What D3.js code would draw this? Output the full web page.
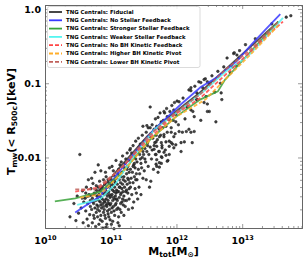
<!DOCTYPE html>
<html>
<head>
<meta charset="utf-8">
<script src="https://cdn.jsdelivr.net/npm/d3@7"></script>
<style>
  body { margin: 0; background: #fff; }
  text { font-family: "DejaVu Sans", sans-serif; font-weight: bold; }
</style>
</head>
<body>
<div id="container"></div>
<script>
// scatter of TNG centrals, [log10 Mtot, log10 Tmw]
const centrals = [
  [10.38,-2.80],[10.44,-2.62],[10.47,-2.85],[10.49,-2.52],
  [10.51,-2.75],[10.53,-1.96],[10.55,-2.68],[10.57,-2.45],[10.58,-2.88],[10.59,-2.60],
  [10.61,-2.55],[10.62,-2.72],[10.63,-2.40],[10.64,-2.83],[10.65,-2.62],[10.66,-2.30],[10.67,-2.50],[10.68,-2.77],[10.69,-2.58],[10.66,-2.92],[10.62,-2.48],[10.69,-2.66],
  [10.70,-2.42],[10.71,-2.70],[10.72,-2.55],[10.72,-2.88],[10.73,-2.35],[10.74,-2.62],[10.74,-2.78],[10.75,-2.48],[10.76,-2.20],[10.76,-2.68],[10.77,-2.58],[10.77,-2.93],[10.78,-2.44],[10.78,-2.74],[10.79,-2.52],[10.79,-2.64],[10.71,-2.28],[10.75,-2.82],[10.73,-2.60],[10.78,-2.38],
  [10.80,-2.56],[10.80,-2.80],[10.81,-2.40],[10.81,-2.66],[10.82,-2.50],[10.82,-2.90],[10.83,-2.32],[10.83,-2.72],[10.84,-2.60],[10.84,-2.45],[10.85,-2.78],[10.85,-2.18],[10.86,-2.54],[10.86,-2.68],[10.87,-2.40],[10.87,-2.86],[10.88,-2.62],[10.88,-2.48],[10.89,-2.74],[10.89,-2.30],[10.80,-2.70],[10.82,-2.58],[10.84,-2.84],[10.86,-2.42],[10.88,-2.95],[10.83,-2.52],[10.85,-2.64],[10.87,-2.56],[10.89,-2.66],[10.81,-2.10],
  [10.90,-2.50],[10.90,-2.70],[10.91,-2.36],[10.91,-2.60],[10.92,-2.82],[10.92,-2.44],[10.93,-2.56],[10.93,-2.26],[10.94,-2.66],[10.94,-2.90],[10.95,-2.40],[10.95,-2.52],[10.96,-2.76],[10.96,-2.30],[10.97,-2.62],[10.97,-2.46],[10.98,-2.70],[10.98,-2.14],[10.99,-2.54],[10.99,-2.84],[10.90,-2.58],[10.91,-2.78],[10.92,-2.20],[10.93,-2.64],[10.94,-2.48],[10.95,-2.72],[10.96,-2.58],[10.97,-2.34],[10.98,-2.50],[10.99,-2.38],[10.91,-2.48],[10.93,-2.94],[10.95,-2.62],[10.97,-2.80],[10.99,-2.64],
  [11.00,-2.42],[11.00,-2.62],[11.01,-2.30],[11.01,-2.74],[11.02,-2.50],[11.02,-2.12],[11.03,-2.58],[11.03,-2.86],[11.04,-2.38],[11.04,-2.66],[11.05,-2.46],[11.05,-2.24],[11.06,-2.56],[11.06,-2.78],[11.07,-2.34],[11.07,-2.52],[11.08,-2.62],[11.08,-2.04],[11.09,-2.44],[11.09,-2.70],[11.00,-2.52],[11.01,-2.90],[11.02,-2.36],[11.03,-2.44],[11.04,-2.54],[11.05,-2.72],[11.06,-2.40],[11.07,-2.64],[11.08,-2.28],[11.09,-2.56],[11.02,-2.68],[11.04,-2.18],[11.06,-2.32],[11.08,-2.48],[11.05,-2.96],
  [11.10,-2.36],[11.10,-2.58],[11.11,-2.22],[11.11,-2.68],[11.12,-2.46],[11.12,-2.80],[11.13,-2.30],[11.13,-2.54],[11.14,-2.40],[11.14,-2.10],[11.15,-2.62],[11.15,-2.34],[11.16,-2.48],[11.16,-2.74],[11.17,-2.20],[11.17,-2.42],[11.18,-2.56],[11.18,-1.98],[11.19,-2.30],[11.19,-2.64],[11.10,-2.46],[11.11,-2.88],[11.12,-2.16],[11.13,-2.40],[11.14,-2.70],[11.15,-2.50],[11.16,-2.26],[11.17,-2.60],[11.18,-2.36],[11.19,-2.46],[11.13,-2.92],[11.16,-2.06],
  [11.20,-2.26],[11.20,-2.52],[11.21,-2.14],[11.21,-2.40],[11.22,-2.66],[11.22,-2.32],[11.23,-2.02],[11.23,-2.46],[11.24,-2.22],[11.24,-2.58],[11.25,-2.36],[11.25,-1.94],[11.26,-2.48],[11.26,-2.12],[11.27,-2.30],[11.27,-2.70],[11.28,-2.20],[11.28,-2.42],[11.29,-1.90],[11.29,-2.34],[11.20,-2.78],[11.22,-2.08],[11.24,-2.44],[11.26,-2.28],[11.28,-2.56],[11.21,-2.58],[11.25,-2.16],[11.27,-2.04],
  [11.30,-2.16],[11.30,-2.40],[11.31,-2.04],[11.31,-2.28],[11.32,-2.50],[11.32,-1.94],[11.33,-2.20],[11.34,-2.34],[11.34,-1.84],[11.35,-2.10],[11.35,-2.60],[11.36,-2.26],[11.36,-1.98],[11.37,-2.14],[11.37,-2.42],[11.38,-2.02],[11.38,-1.78],[11.39,-2.22],[11.39,-2.48],[11.30,-1.88],[11.33,-2.68],[11.36,-2.08],[11.38,-2.30],[11.34,-2.12],
  [11.40,-2.06],[11.40,-2.30],[11.41,-1.90],[11.42,-2.16],[11.42,-1.74],[11.43,-2.40],[11.44,-1.96],[11.44,-2.22],[11.45,-1.82],[11.46,-2.08],[11.46,-2.50],[11.47,-1.88],[11.47,-2.14],[11.48,-1.70],[11.48,-2.00],[11.49,-2.28],[11.49,-1.92],[11.41,-2.56],[11.45,-2.02],[11.43,-1.86],
  [11.50,-1.96],[11.51,-1.78],[11.51,-2.18],[11.52,-1.88],[11.53,-2.06],[11.54,-1.66],[11.54,-2.30],[11.55,-1.92],[11.56,-1.80],[11.57,-2.12],[11.57,-1.60],[11.58,-1.96],[11.59,-1.72],[11.59,-2.40],[11.52,-2.02],[11.56,-1.84],
  [11.60,-1.86],[11.61,-1.68],[11.62,-2.02],[11.63,-1.56],[11.63,-1.90],[11.64,-1.74],[11.65,-2.16],[11.66,-1.62],[11.67,-1.80],[11.68,-1.48],[11.68,-1.96],[11.69,-1.70],[11.61,-2.32],[11.66,-1.84],
  [11.70,-1.58],[11.71,-1.76],[11.72,-1.46],[11.73,-1.92],[11.74,-1.62],[11.75,-1.40],[11.76,-1.70],[11.77,-2.08],[11.77,-1.52],[11.78,-1.84],[11.79,-1.60],[11.72,-2.20],
  [11.80,-1.50],[11.81,-1.72],[11.82,-1.40],[11.83,-1.90],[11.84,-1.58],[11.85,-1.34],[11.86,-1.66],[11.87,-2.04],[11.88,-1.46],[11.89,-1.78],
  [11.90,-1.38],[11.92,-1.60],[11.93,-1.30],[11.94,-1.82],[11.95,-1.50],[11.97,-1.26],[11.98,-1.68],[11.99,-1.42],
  [12.01,-1.24],[12.03,-1.56],[12.05,-1.36],[12.07,-1.80],[12.10,-1.20],[12.13,-1.48],[12.16,-1.30],[12.19,-1.62],
  [12.22,-1.10],[12.25,-1.38],[12.28,-1.04],[12.31,-1.22],[12.34,-0.98],[12.37,-1.50],[12.40,-1.06],[12.44,-0.94],[12.47,-1.28],[12.50,-1.00],[12.54,-0.90],[12.58,-1.12],
  [12.63,-0.84],[12.67,-1.00],[12.72,-0.78],[12.77,-0.66],[12.82,-0.86],[12.87,-0.60],[12.91,-0.76],[12.96,-0.56],
  [13.05,-0.48],[13.20,-0.40],[13.45,-0.20],[13.67,-0.11],[13.74,-0.09],
  [12.42,-0.95],[12.47,-0.98],[12.37,-0.99],[12.88,-0.59],[12.92,-0.62],[12.95,-0.66],[12.85,-0.78],[12.68,-1.13],[12.69,-1.22],[12.50,-1.38],
  [12.19,-1.09],[12.22,-1.06],[12.04,-1.25],[12.31,-1.13],[12.31,-1.22],[12.45,-1.18],[12.16,-1.32],[11.96,-1.36],[11.81,-1.38],[11.86,-1.45],
  [12.22,-1.36],[12.42,-1.26],[12.27,-1.45],[11.99,-1.52],[11.89,-1.49],[11.77,-1.53],[11.70,-1.60],[12.60,-1.52],[12.47,-1.38],
  [11.74,-1.72],[11.81,-1.69],[11.92,-1.66],[11.96,-1.72],[12.04,-1.65],[12.09,-1.66],[12.15,-1.65],[12.22,-1.66],[12.27,-1.65],
  [11.69,-1.79],[11.77,-1.80],[11.84,-1.79],[11.92,-1.80],[11.99,-1.83],[12.12,-1.79],[12.24,-1.80],[11.70,-1.85],[11.78,-1.87],[11.89,-1.85],[11.96,-1.87],
  [11.74,-1.92],[11.81,-1.93],[12.07,-1.92],[11.69,-1.96],[11.77,-1.99],[11.84,-1.97],[11.89,-1.96],[11.70,-2.03],[11.78,-2.00],[11.86,-2.05],
  [11.69,-2.09],[11.74,-2.07],[11.70,-2.12],[11.74,-2.13],[11.66,-1.89],[11.60,-1.32],[11.49,-1.58],[11.55,-1.57],[11.60,-1.60]
];

// median relations, log10 Mtot and log10 Tmw
const fiducialM = [10.55,10.75,10.95,11.15,11.35,11.55,11.75,11.95,12.15,12.35,12.55,12.75,12.95,13.15,13.35,13.55];
const fiducialT = [-2.56,-2.50,-2.33,-2.12,-1.92,-1.72,-1.55,-1.41,-1.27,-1.13,-0.97,-0.81,-0.65,-0.49,-0.33,-0.17];
const noStellarM = [10.46,10.84,11.22,11.64,12.06,12.37,12.60,12.91,13.14,13.35,13.58];
const noStellarT = [-2.74,-2.52,-2.09,-1.64,-1.29,-1.05,-0.93,-0.71,-0.48,-0.28,-0.07];
const strongerM = [10.15,10.46,10.84,11.14,11.60,11.98,12.36,12.63,12.74,13.04,13.43,13.55];
const strongerT = [-2.59,-2.55,-2.46,-2.23,-1.76,-1.46,-1.22,-1.11,-0.95,-0.66,-0.28,-0.17];
const weakerM = [10.49,10.84,11.07,11.37,11.67,12.06,12.44,12.74,13.08,13.35,13.62];
const weakerT = [-2.64,-2.56,-2.36,-1.96,-1.62,-1.36,-1.09,-0.85,-0.64,-0.39,-0.12];
const noKineticM = [10.46,10.84,11.22,11.60,11.98,12.36,12.74,13.12,13.39,13.62];
const noKineticT = [-2.46,-2.40,-2.09,-1.73,-1.42,-1.20,-0.89,-0.58,-0.35,-0.17];
const higherPivotM = [10.53,10.84,11.22,11.60,11.98,12.44,12.74,13.12,13.55];
const higherPivotT = [-2.54,-2.50,-2.16,-1.76,-1.46,-1.22,-0.95,-0.62,-0.22];
const lowerPivotM = [10.46,10.76,11.14,11.60,11.98,12.36,12.74,13.12,13.55];
const lowerPivotT = [-2.43,-2.43,-2.16,-1.69,-1.40,-1.15,-0.82,-0.55,-0.17];

const seriesNames = ["TNG Centrals: Fiducial", "TNG Centrals: No Stellar Feedback", "TNG Centrals: Stronger Stellar Feedback",
  "TNG Centrals: Weaker Stellar Feedback", "TNG Centrals: No BH Kinetic Feedback", "TNG Centrals: Higher BH Kinetic Pivot",
  "TNG Centrals: Lower BH Kinetic Pivot"];
const yTicks = [0.01, 0.1, 1.0];
const yTickLabels = ["0.01", "0.1", "1.0"];
const xTicks = [1e10, 1e11, 1e12, 1e13];
const xTickExp = ["10", "11", "12", "13"];

const w = 307, h = 259;
const padL = 45, padR = 302, padT = 5, padB = 228;

const series = [
  [fiducialM, fiducialT], [noStellarM, noStellarT], [strongerM, strongerT], [weakerM, weakerT],
  [noKineticM, noKineticT], [higherPivotM, higherPivotT], [lowerPivotM, lowerPivotT]
];
const colors = ["#333333", "#3a3aff", "#3aa23a", "#55f5f0", "#ff4545", "#ffae2a", "#c0605a"];
const dashes = [null, null, null, null, "4,2", "4,2", "4,2"];

const svg = d3.select("#container").append("svg").attr("width", w).attr("height", h);

const xScale = d3.scaleLog().domain([1e10, Math.pow(10, 13.91)]).range([padL, padR]);
const yScale = d3.scaleLog().domain([Math.pow(10, -2.95), Math.pow(10, 0.054)]).range([padB, padT]);

// minor tick values
const xMinor = [], yMinor = [];
for (let e = 10; e < 14; e++) for (let k = 2; k < 10; k++) if (k * Math.pow(10, e) < xScale.domain()[1]) xMinor.push(k * Math.pow(10, e));
for (let e = -3; e < 1; e++) for (let k = 2; k < 10; k++) {
  const v = k * Math.pow(10, e);
  if (v > yScale.domain()[0] && v < yScale.domain()[1]) yMinor.push(v);
}

// scatter
svg.append("g").selectAll("circle").data(centrals).enter().append("circle")
  .attr("cx", (d) => xScale(Math.pow(10, d[0])))
  .attr("cy", (d) => yScale(Math.pow(10, d[1])))
  .attr("r", 1.3)
  .attr("fill", "#3a3a3a").attr("stroke", "#111").attr("stroke-width", 0.5).attr("opacity", 0.95);

// lines
const line = d3.line().x((d) => xScale(Math.pow(10, d[0]))).y((d) => yScale(Math.pow(10, d[1])));
series.forEach((s, i) => {
  const pts = s[0].map((m, j) => [m, s[1][j]]);
  svg.append("path").datum(pts).attr("d", line)
    .attr("fill", "none").attr("stroke", colors[i]).attr("stroke-width", 1.8)
    .attr("stroke-opacity", 0.85).attr("stroke-dasharray", dashes[i]);
});

// axes, ticks inside on all four sides
function axisStyle(g) {
  g.select(".domain").attr("stroke", "#666").attr("stroke-width", 1);
  g.selectAll(".tick line").attr("stroke", "#555").attr("stroke-width", 0.6);
}
svg.append("g").attr("transform", `translate(0,${padB})`)
  .call(d3.axisBottom(xScale).tickValues(xMinor).tickSize(-2).tickSizeOuter(0).tickFormat(""))
  .call(axisStyle);
const xAxisG = svg.append("g").attr("transform", `translate(0,${padB})`)
  .call(d3.axisBottom(xScale).tickValues(xTicks).tickSize(-4).tickSizeOuter(0).tickPadding(7))
  .call(axisStyle);
xAxisG.selectAll(".tick text").each(function(d, i) {
  const t = d3.select(this).text(null).attr("font-size", 9.5).attr("fill", "#000").attr("dy", "0.9em");
  t.append("tspan").text("10");
  t.append("tspan").text(xTickExp[i]).attr("font-size", 6.5).attr("dy", "-0.5em");
});
svg.append("g").attr("transform", `translate(0,${padT})`)
  .call(d3.axisTop(xScale).tickValues(xMinor).tickSize(-2).tickSizeOuter(0).tickFormat(""))
  .call(axisStyle);
svg.append("g").attr("transform", `translate(0,${padT})`)
  .call(d3.axisTop(xScale).tickValues(xTicks).tickSize(-4).tickSizeOuter(0).tickFormat(""))
  .call(axisStyle);

svg.append("g").attr("transform", `translate(${padL},0)`)
  .call(d3.axisLeft(yScale).tickValues(yMinor).tickSize(-2).tickSizeOuter(0).tickFormat(""))
  .call(axisStyle);
svg.append("g").attr("transform", `translate(${padL},0)`)
  .call(d3.axisLeft(yScale).tickValues(yTicks).tickSize(-4).tickSizeOuter(0).tickPadding(4)
    .tickFormat((d, i) => yTickLabels[i]))
  .call(axisStyle)
  .selectAll(".tick text").attr("font-size", 9.5).attr("fill", "#000");
svg.append("g").attr("transform", `translate(${padR},0)`)
  .call(d3.axisRight(yScale).tickValues(yMinor).tickSize(-2).tickSizeOuter(0).tickFormat(""))
  .call(axisStyle);
svg.append("g").attr("transform", `translate(${padR},0)`)
  .call(d3.axisRight(yScale).tickValues(yTicks).tickSize(-4).tickSizeOuter(0).tickFormat(""))
  .call(axisStyle);

// axis labels
const xl = svg.append("text").attr("x", (padL + padR) / 2).attr("y", 255)
  .attr("text-anchor", "middle").attr("font-size", 11);
xl.append("tspan").text("M");
xl.append("tspan").text("tot").attr("font-size", 7.5).attr("dy", 2);
xl.append("tspan").text("[M").attr("dy", -2);
xl.append("tspan").text("⊙").attr("font-size", 7.5).attr("dy", 2);
xl.append("tspan").text("]").attr("dy", -2);

const yl = svg.append("text").attr("transform", `translate(15,${(padT + padB) / 2 + 5}) rotate(-90)`)
  .attr("text-anchor", "middle").attr("font-size", 11);
yl.append("tspan").text("T");
yl.append("tspan").text("mw").attr("font-size", 7.5).attr("dy", 2);
yl.append("tspan").text("(< R").attr("dy", -2);
yl.append("tspan").text("500c").attr("font-size", 7.5).attr("dy", 2);
yl.append("tspan").text(")[keV]").attr("dy", -2);

// legend
const legend = svg.append("g");
legend.append("rect").attr("x", 47.5).attr("y", 6.5).attr("width", 152.5).attr("height", 61)
  .attr("rx", 2).attr("fill", "#fff").attr("fill-opacity", 0.85).attr("stroke", "#ccc").attr("stroke-width", 0.7);
seriesNames.forEach((name, i) => {
  const y = 12 + i * 8.3;
  legend.append("line").attr("x1", 49).attr("x2", 62).attr("y1", y).attr("y2", y)
    .attr("stroke", colors[i]).attr("stroke-width", 1.8).attr("stroke-dasharray", dashes[i]);
  legend.append("text").attr("x", 66).attr("y", y).attr("dy", "0.35em")
    .attr("font-size", 5.4).attr("fill", "#000").text(name);
});
</script>
</body>
</html>
